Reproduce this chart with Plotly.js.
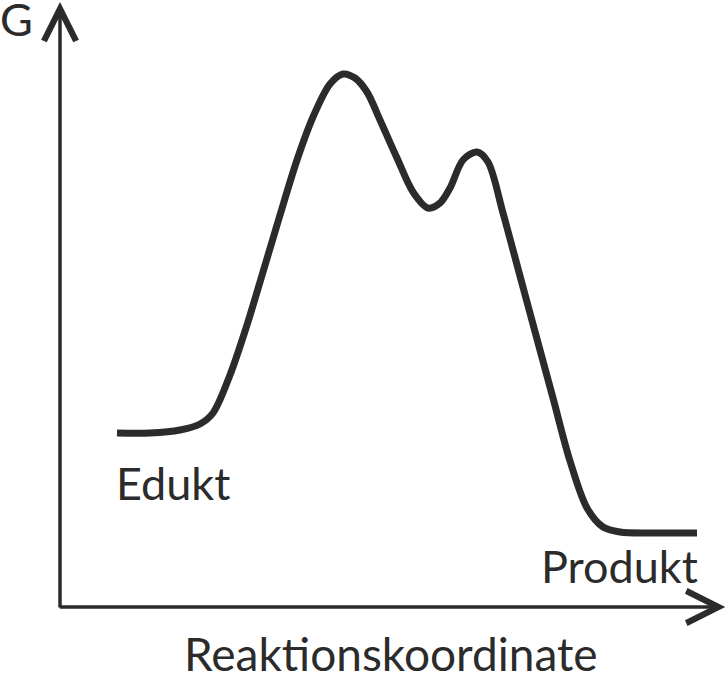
<!DOCTYPE html>
<html>
<head>
<meta charset="utf-8">
<script src="https://cdn.plot.ly/plotly-3.0.1.min.js"></script>
<style>
  html, body { margin: 0; padding: 0; background: #ffffff; }
  #chart { width: 728px; height: 673px; }
</style>
</head>
<body>
<div id="chart"></div>
<script>
// energy profile (reaction coordinate, G)
var reactionCoord = [57, 90, 120, 140, 153, 170, 187, 203, 220, 237, 253, 270, 283, 295, 307, 320, 337, 353, 368, 380, 390, 403, 417, 428, 443, 460, 477, 493, 510, 527, 543, 560, 590, 637];
var gibbsEnergy   = [174, 174, 177, 183, 194, 232, 282, 335, 392, 447, 490, 523, 533, 529, 515, 487, 449, 415, 399, 404, 419, 447, 455, 445, 394, 331, 268, 209, 146, 99, 80, 75, 74, 74];

var axisMax = [662, 602];
var labels = ['G', 'Edukt', 'Produkt', 'Reaktionskoordinate'];

var ink = '#2b2b2b';
function font(size) {
    return { family: 'Lato, "Open Sans", sans-serif', color: ink, size: size };
}

var trace = {
    x: reactionCoord, y: gibbsEnergy,
    type: 'scatter', mode: 'lines',
    line: { color: ink, width: 7, shape: 'spline', smoothing: 0.9 },
    hoverinfo: 'skip'
};

var annotations = [
    // axes drawn as arrows (paper coords so they may leave the plot area)
    { x: 0, y: 1.005, xref: 'paper', yref: 'paper', ax: 0, ay: 607,
      text: '', showarrow: true, arrowhead: 5, arrowwidth: 3.5, arrowsize: 1.8, arrowcolor: ink },
    { x: 1.005, y: 0, xref: 'paper', yref: 'paper', ax: -667, ay: 0,
      text: '', showarrow: true, arrowhead: 5, arrowwidth: 3.5, arrowsize: 1.8, arrowcolor: ink },
    // labels
    { x: -0.066, y: 0.976, xref: 'paper', yref: 'paper', text: labels[0], showarrow: false,
      xanchor: 'center', yanchor: 'middle', font: font(45) },
    { x: 54, y: 124, xref: 'x', yref: 'y', text: labels[1], showarrow: false,
      xanchor: 'left', yanchor: 'middle', font: font(45) },
    { x: 640, y: 41, xref: 'x', yref: 'y', text: labels[2], showarrow: false,
      xanchor: 'right', yanchor: 'middle', font: font(45) },
    { x: 0.5, y: -0.078, xref: 'paper', yref: 'paper', text: labels[3], showarrow: false,
      xanchor: 'center', yanchor: 'middle', font: font(46) }
];

var layout = {
    width: 728, height: 673,
    plot_bgcolor: '#ffffff',
    paper_bgcolor: '#ffffff',
    showlegend: false,
    margin: { l: 60, r: 6, t: 5, b: 66 },
    xaxis: { range: [0, axisMax[0]], visible: false, fixedrange: true },
    yaxis: { range: [0, axisMax[1]], visible: false, fixedrange: true },
    annotations: annotations
};

Plotly.newPlot('chart', [trace], layout, { displayModeBar: false, staticPlot: true });
</script>
</body>
</html>
